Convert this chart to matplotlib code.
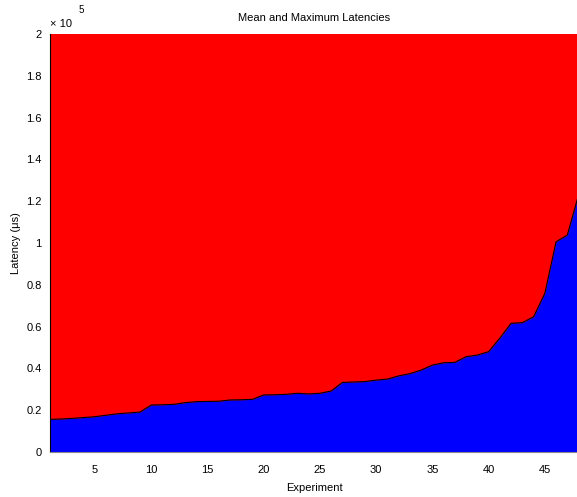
import matplotlib.pyplot as plt

# experiment index and latencies in microseconds
experiments = list(range(1, 49))
mean_latency = [15600, 15800, 16100, 16500, 16900, 17600, 18300, 18700, 19100, 22500,
                22600, 22800, 23600, 24100, 24200, 24300, 24900, 25000, 25200, 27300,
                27400, 27600, 28100, 27800, 28100, 29200, 33300, 33500, 33700, 34400,
                34900, 36400, 37500, 39200, 41600, 42700, 42900, 45600, 46400, 48000,
                54500, 61600, 61900, 64700, 75900, 100600, 103800, 123000]
# the maximum latencies run off the top of the axes
max_latency = [200000] * 48

yticks = [0, 20000, 40000, 60000, 80000, 100000, 120000, 140000, 160000, 180000, 200000]
xticks = [5, 10, 15, 20, 25, 30, 35, 40, 45]

plt.rcParams['font.family'] = ['Liberation Sans', 'DejaVu Sans']
plt.rcParams['font.size'] = 8

fig = plt.figure(figsize=(5.77, 4.97), dpi=100)
ax = fig.add_axes([0.0867, 0.0905, 0.916, 0.8411])

ax.fill_between(experiments, 0, max_latency, color='#ff0000', lw=0)
ax.fill_between(experiments, 0, mean_latency, color='#0000ff', lw=0)
ax.plot(experiments, mean_latency, color='black', lw=0.8)

ax.set_xlim(1, 48)
ax.set_ylim(0, 200000)
ax.set_xticks(xticks)
ax.set_yticks(yticks)
ax.set_yticklabels([f"{v / 1e5:g}" for v in yticks])
ax.tick_params(direction='in', length=0, pad=6)
ax.tick_params(axis='x', pad=9)

# exponent label, MATLAB style
ax.text(0.0, 1.012, "\u00d7 10", transform=ax.transAxes, fontsize=8,
        ha='left', va='bottom')
ax.text(0.054, 1.045, "5", transform=ax.transAxes, fontsize=7,
        ha='left', va='bottom')

for s in ['top', 'right']:
    ax.spines[s].set_visible(False)
ax.spines['left'].set_color('black')
ax.spines['bottom'].set_color('#888888')

ax.set_title("Mean and Maximum Latencies", fontsize=8, pad=9)
ax.set_xlabel("Experiment", labelpad=6)
ax.set_ylabel("Latency (\u03bcs)")

fig.savefig("out.png", dpi=100)
